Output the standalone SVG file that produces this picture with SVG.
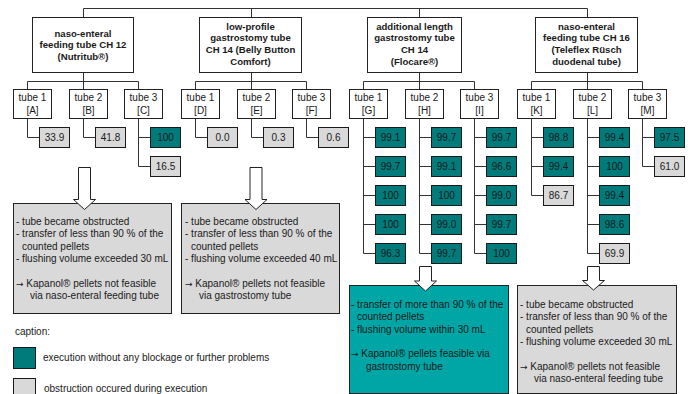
<svg xmlns="http://www.w3.org/2000/svg" width="688" height="394" viewBox="0 0 688 394">
<style>
text{font-family:"Liberation Sans",Arial,sans-serif;font-size:10px;fill:#1a1a1a}
.c{text-anchor:middle}
.b{font-weight:bold;font-size:9.6px}
.ar{font-family:"DejaVu Sans",sans-serif;font-size:9px}
.ln{fill:none;stroke:#333;stroke-width:1}
.hdr,.tb{fill:#fff;stroke:#222;stroke-width:1}
.ok{fill:#007b7b;stroke:#1a1a1a;stroke-width:1}
.bad{fill:#d9d9d9;stroke:#1a1a1a;stroke-width:1}
.res{stroke:#222;stroke-width:1}
.arw{fill:#fff;stroke:#222;stroke-width:1}
</style>
<rect width="688" height="394" fill="#fff"/>
<g id="connectors" class="ln">
<path d="M83.5 8.5H587.5M83.5 8.5V17.5M251.5 8.5V17.5M419.5 8.5V17.5M587.5 8.5V17.5"/>
<path d="M27.5 81.5H138.5M195.5 81.5H306.5M363.5 81.5H474.5M531.5 81.5H642.5"/>
<path d="M27.5 81.5V137.5H39.5"/>
<path d="M83.5 72.5V137.5H95.5"/>
<path d="M138.5 81.5V166.5H150.5M138.5 137.5H150.5"/>
<path d="M195.5 81.5V137.5H207.5"/>
<path d="M251.5 72.5V137.5H263.5"/>
<path d="M306.5 81.5V137.5H318.5"/>
<path d="M363.5 81.5V253.5H375.5M363.5 137.5H375.5M363.5 166.5H375.5M363.5 195.5H375.5M363.5 224.5H375.5"/>
<path d="M419.5 72.5V253.5H431.5M419.5 137.5H431.5M419.5 166.5H431.5M419.5 195.5H431.5M419.5 224.5H431.5"/>
<path d="M474.5 81.5V253.5H486.5M474.5 137.5H486.5M474.5 166.5H486.5M474.5 195.5H486.5M474.5 224.5H486.5"/>
<path d="M531.5 81.5V195.5H543.5M531.5 137.5H543.5M531.5 166.5H543.5"/>
<path d="M587.5 72.5V253.5H599.5M587.5 137.5H599.5M587.5 166.5H599.5M587.5 195.5H599.5M587.5 224.5H599.5"/>
<path d="M642.5 81.5V166.5H654.5M642.5 137.5H654.5"/>
</g>
<g id="hdr1"><rect class="hdr" x="32.5" y="17.5" width="101" height="55"/>
<text class="c b" x="83" y="36.5">naso-enteral</text><text class="c b" x="83" y="48.2">feeding tube CH 12</text><text class="c b" x="83" y="59.9">(Nutritub®)</text></g>
<g id="hdr2"><rect class="hdr" x="199.5" y="17.5" width="102" height="55"/>
<text class="c b" x="250.5" y="29.5">low-profile</text><text class="c b" x="250.5" y="41.2">gastrostomy tube</text><text class="c b" x="250.5" y="52.9">CH 14 (Belly Button</text><text class="c b" x="250.5" y="64.6">Comfort)</text></g>
<g id="hdr3"><rect class="hdr" x="367.5" y="17.5" width="94" height="55"/>
<text class="c b" x="414.5" y="29.5">additional length</text><text class="c b" x="414.5" y="41.2">gastrostomy tube</text><text class="c b" x="414.5" y="52.9">CH 14</text><text class="c b" x="414.5" y="64.6">(Flocare®)</text></g>
<g id="hdr4"><rect class="hdr" x="535.5" y="17.5" width="102" height="55"/>
<text class="c b" x="586.5" y="29.5">naso-enteral</text><text class="c b" x="586.5" y="41.2">feeding tube CH 16</text><text class="c b" x="586.5" y="52.9">(Teleflex Rüsch</text><text class="c b" x="586.5" y="64.6">duodenal tube)</text></g>
<g id="tubeA"><rect class="tb" x="13.5" y="89.5" width="38" height="29"/><text class="c" x="32.5" y="101">tube 1</text><text class="c" x="32.5" y="113.5">[A]</text></g>
<g id="tubeB"><rect class="tb" x="69.5" y="89.5" width="38" height="29"/><text class="c" x="88.5" y="101">tube 2</text><text class="c" x="88.5" y="113.5">[B]</text></g>
<g id="tubeC"><rect class="tb" x="124.5" y="89.5" width="38" height="29"/><text class="c" x="143.5" y="101">tube 3</text><text class="c" x="143.5" y="113.5">[C]</text></g>
<g id="tubeD"><rect class="tb" x="181.5" y="89.5" width="38" height="29"/><text class="c" x="200.5" y="101">tube 1</text><text class="c" x="200.5" y="113.5">[D]</text></g>
<g id="tubeE"><rect class="tb" x="237.5" y="89.5" width="38" height="29"/><text class="c" x="256.5" y="101">tube 2</text><text class="c" x="256.5" y="113.5">[E]</text></g>
<g id="tubeF"><rect class="tb" x="292.5" y="89.5" width="38" height="29"/><text class="c" x="311.5" y="101">tube 3</text><text class="c" x="311.5" y="113.5">[F]</text></g>
<g id="tubeG"><rect class="tb" x="349.5" y="89.5" width="38" height="29"/><text class="c" x="368.5" y="101">tube 1</text><text class="c" x="368.5" y="113.5">[G]</text></g>
<g id="tubeH"><rect class="tb" x="405.5" y="89.5" width="38" height="29"/><text class="c" x="424.5" y="101">tube 2</text><text class="c" x="424.5" y="113.5">[H]</text></g>
<g id="tubeI"><rect class="tb" x="460.5" y="89.5" width="38" height="29"/><text class="c" x="479.5" y="101">tube 3</text><text class="c" x="479.5" y="113.5">[I]</text></g>
<g id="tubeK"><rect class="tb" x="517.5" y="89.5" width="38" height="29"/><text class="c" x="536.5" y="101">tube 1</text><text class="c" x="536.5" y="113.5">[K]</text></g>
<g id="tubeL"><rect class="tb" x="573.5" y="89.5" width="38" height="29"/><text class="c" x="592.5" y="101">tube 2</text><text class="c" x="592.5" y="113.5">[L]</text></g>
<g id="tubeM"><rect class="tb" x="628.5" y="89.5" width="38" height="29"/><text class="c" x="647.5" y="101">tube 3</text><text class="c" x="647.5" y="113.5">[M]</text></g>
<g id="valA"><rect class="bad" x="39.5" y="127.5" width="30" height="20"/><text class="c" x="54.5" y="141">33.9</text></g>
<g id="valB"><rect class="bad" x="95.5" y="127.5" width="30" height="20"/><text class="c" x="110.5" y="141">41.8</text></g>
<g id="valC"><rect class="ok" x="150.5" y="127.5" width="30" height="20"/><text class="c" x="165.5" y="141">100</text>
<rect class="bad" x="150.5" y="156.5" width="30" height="20"/><text class="c" x="165.5" y="170">16.5</text></g>
<g id="valD"><rect class="bad" x="207.5" y="127.5" width="30" height="20"/><text class="c" x="222.5" y="141">0.0</text></g>
<g id="valE"><rect class="bad" x="263.5" y="127.5" width="30" height="20"/><text class="c" x="278.5" y="141">0.3</text></g>
<g id="valF"><rect class="bad" x="318.5" y="127.5" width="30" height="20"/><text class="c" x="333.5" y="141">0.6</text></g>
<g id="valG">
<rect class="ok" x="375.5" y="127.5" width="30" height="20"/><text class="c" x="390.5" y="141">99.1</text>
<rect class="ok" x="375.5" y="156.5" width="30" height="20"/><text class="c" x="390.5" y="170">99.7</text>
<rect class="ok" x="375.5" y="185.5" width="30" height="20"/><text class="c" x="390.5" y="199">100</text>
<rect class="ok" x="375.5" y="214.5" width="30" height="20"/><text class="c" x="390.5" y="228">100</text>
<rect class="ok" x="375.5" y="243.5" width="30" height="20"/><text class="c" x="390.5" y="257">96.3</text></g>
<g id="valH">
<rect class="ok" x="431.5" y="127.5" width="30" height="20"/><text class="c" x="446.5" y="141">99.7</text>
<rect class="ok" x="431.5" y="156.5" width="30" height="20"/><text class="c" x="446.5" y="170">99.1</text>
<rect class="ok" x="431.5" y="185.5" width="30" height="20"/><text class="c" x="446.5" y="199">100</text>
<rect class="ok" x="431.5" y="214.5" width="30" height="20"/><text class="c" x="446.5" y="228">99.0</text>
<rect class="ok" x="431.5" y="243.5" width="30" height="20"/><text class="c" x="446.5" y="257">99.7</text></g>
<g id="valI">
<rect class="ok" x="486.5" y="127.5" width="30" height="20"/><text class="c" x="501.5" y="141">99.7</text>
<rect class="ok" x="486.5" y="156.5" width="30" height="20"/><text class="c" x="501.5" y="170">96.6</text>
<rect class="ok" x="486.5" y="185.5" width="30" height="20"/><text class="c" x="501.5" y="199">99.0</text>
<rect class="ok" x="486.5" y="214.5" width="30" height="20"/><text class="c" x="501.5" y="228">99.7</text>
<rect class="ok" x="486.5" y="243.5" width="30" height="20"/><text class="c" x="501.5" y="257">100</text></g>
<g id="valK">
<rect class="ok" x="543.5" y="127.5" width="30" height="20"/><text class="c" x="558.5" y="141">98.8</text>
<rect class="ok" x="543.5" y="156.5" width="30" height="20"/><text class="c" x="558.5" y="170">99.4</text>
<rect class="bad" x="543.5" y="185.5" width="30" height="20"/><text class="c" x="558.5" y="199">86.7</text></g>
<g id="valL">
<rect class="ok" x="599.5" y="127.5" width="30" height="20"/><text class="c" x="614.5" y="141">99.4</text>
<rect class="ok" x="599.5" y="156.5" width="30" height="20"/><text class="c" x="614.5" y="170">100</text>
<rect class="ok" x="599.5" y="185.5" width="30" height="20"/><text class="c" x="614.5" y="199">99.4</text>
<rect class="ok" x="599.5" y="214.5" width="30" height="20"/><text class="c" x="614.5" y="228">98.6</text>
<rect class="bad" x="599.5" y="243.5" width="30" height="20"/><text class="c" x="614.5" y="257">69.9</text></g>
<g id="valM">
<rect class="ok" x="654.5" y="127.5" width="30" height="20"/><text class="c" x="669.5" y="141">97.5</text>
<rect class="bad" x="654.5" y="156.5" width="30" height="20"/><text class="c" x="669.5" y="170">61.0</text></g>
<g id="res1"><rect class="res" fill="#d9d9d9" x="13.5" y="203.5" width="158" height="110"/>
<text x="16" y="225">- tube became obstructed</text>
<text x="16" y="237.3">- transfer of less than 90 % of the</text>
<text x="22" y="249.6">counted pellets</text>
<text x="16" y="261.9">- flushing volume exceeded 30 mL</text>
<text x="16" y="286.5"><tspan class="ar">→</tspan> Kapanol® pellets not feasible</text>
<text x="30" y="298.8">via naso-enteral feeding tube</text></g>
<g id="res2"><rect class="res" fill="#d9d9d9" x="181.5" y="203.5" width="158" height="110"/>
<text x="185" y="225">- tube became obstructed</text>
<text x="185" y="237.3">- transfer of less than 90 % of the</text>
<text x="191" y="249.6">counted pellets</text>
<text x="185" y="261.9">- flushing volume exceeded 40 mL</text>
<text x="185" y="286.5"><tspan class="ar">→</tspan> Kapanol® pellets not feasible</text>
<text x="199" y="298.8">via gastrostomy tube</text></g>
<g id="res3"><rect class="res" fill="#00a6a6" x="349.5" y="285.5" width="159" height="108"/>
<text x="351" y="308">- transfer of more than 90 % of the</text>
<text x="357" y="320.3">counted pellets</text>
<text x="351" y="332.6">- flushing volume within 30 mL</text>
<text x="351" y="357.2"><tspan class="ar">→</tspan> Kapanol® pellets feasible via</text>
<text x="366" y="369.5">gastrostomy tube</text></g>
<g id="res4"><rect class="res" fill="#d9d9d9" x="517.5" y="285.5" width="159" height="108"/>
<text x="520" y="308">- tube became obstructed</text>
<text x="520" y="320.3">- transfer of less than 90 % of the</text>
<text x="526" y="332.6">counted pellets</text>
<text x="520" y="344.9">- flushing volume exceeded 30 mL</text>
<text x="520" y="369.5"><tspan class="ar">→</tspan> Kapanol® pellets not feasible</text>
<text x="534" y="381.8">via naso-enteral feeding tube</text></g>
<g id="arrows" class="arw">
<polygon points="78.5,167.5 90.5,167.5 90.5,199.5 95.5,199.5 84.5,209.5 73.5,199.5 78.5,199.5"/>
<polygon points="250,167.5 262,167.5 262,199.5 267,199.5 256,209.5 245,199.5 250,199.5"/>
<polygon points="419.5,266.5 431.5,266.5 431.5,281 436.5,281 425.5,291 414.5,281 419.5,281"/>
<polygon points="587.5,266.5 599.5,266.5 599.5,280.5 604.5,280.5 593.5,290 582.5,280.5 587.5,280.5"/>
</g>
<g id="caption">
<text x="15" y="335">caption:</text>
<rect class="ok" x="13.5" y="347.5" width="22" height="21"/>
<text x="43" y="361">execution without any blockage or further problems</text>
<rect class="bad" x="13.5" y="378.5" width="22" height="20"/>
<text x="44" y="392">obstruction occured during execution</text>
</g>
</svg>
